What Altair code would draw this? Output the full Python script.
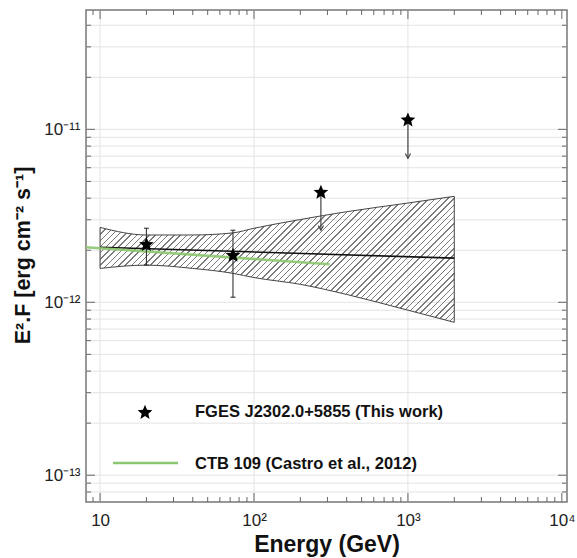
import math

import altair as alt
import pandas as pd

# ---------------------------------------------------------------- data
# Spectral points: energy (GeV), E^2 F (erg cm^-2 s^-1) and 1-sigma range
pt_energy = [20, 73]
pt_flux = [2.17e-12, 1.88e-12]
pt_flux_lo = [1.64e-12, 1.07e-12]
pt_flux_hi = [2.68e-12, 2.61e-12]

# Upper limits and where their arrows end
ul_energy = [272, 1000]
ul_flux = [4.35e-12, 1.14e-11]
ul_arrow_tip = [2.61e-12, 6.8e-12]

# Best-fit power law and its 1-sigma butterfly
fit_energy = [10, 2000]
fit_flux = [2.08e-12, 1.80e-12]
band_energy = [10, 20, 40, 73, 100, 200, 400, 1000, 2000]
band_upper = [2.71e-12, 2.45e-12, 2.45e-12, 2.52e-12, 2.68e-12,
              3.01e-12, 3.34e-12, 3.75e-12, 4.10e-12]
band_lower = [1.57e-12, 1.64e-12, 1.57e-12, 1.47e-12, 1.39e-12,
              1.27e-12, 1.11e-12, 9.0e-13, 7.66e-13]

# CTB 109 spectrum (Castro et al., 2012)
ctb_energy = [8.1, 310]
ctb_flux = [2.08e-12, 1.66e-12]

legend_labels = ["FGES J2302.0+5855 (This work)", "CTB 109 (Castro et al., 2012)"]

# Axes: ranges, tick values and tick labels
x_domain = [8.1, 1.08e4]
y_domain = [7.0e-14, 4.9e-11]
x_major = [10, 100, 1000, 10000]
x_major_labels = ["10", "10²", "10³", "10⁴"]
x_minor = [9] + [m * 10 ** k for k in (1, 2, 3) for m in range(2, 10)]
y_major = [1e-13, 1e-12, 1e-11]
y_major_labels = ["10⁻¹³", "10⁻¹²", "10⁻¹¹"]
y_minor = ([8e-14, 9e-14]
           + [m * 10.0 ** k for k in (-13, -12) for m in range(2, 10)]
           + [2e-11, 3e-11, 4e-11])

# ---------------------------------------------------------------- style
WIDTH, HEIGHT = 481, 492
FONT = "Liberation Sans"
GRID = "#e3e3e3"
TICK = "#666666"
HATCH = "#7c7c7c"
GREEN = "#8cc66e"

# five-pointed star symbol in the [-1, 1] box
_star = []
for k in range(10):
    r = 1.0 if k % 2 == 0 else 0.45
    a = -math.pi / 2 + k * math.pi / 5
    _star.append(f"{r * math.cos(a):.3f},{r * math.sin(a) + 0.08:.3f}")
STAR = "M" + "L".join(_star) + "Z"
ARROW_HEAD = "M-0.55,-1L0,0L0.55,-1"
CAP = "M-1,0L1,0"


def log_label_expr(values, labels):
    expr = "''"
    for v, lab in zip(values, labels):
        expr = f"round(log(datum.value)/LN10) == {round(math.log10(v))} ? '{lab}' : ({expr})"
    return expr


x_scale = alt.Scale(type="log", domain=x_domain, nice=False)
y_scale = alt.Scale(type="log", domain=y_domain, nice=False)

x_axis = alt.Axis(
    values=x_major, labelExpr=log_label_expr(x_major, x_major_labels),
    grid=False, ticks=False, domain=False,
    labelFont=FONT, labelFontSize=17, labelColor="#222", labelPadding=10,
    labelFlush=False,
    title="Energy (GeV)", titleFont=FONT, titleFontSize=23, titleFontWeight="bold",
    titleColor="#111", titleBaseline="middle", titleX=WIDTH / 2, titleY=42,
)
y_axis = alt.Axis(
    values=y_major, labelExpr=log_label_expr(y_major, y_major_labels),
    grid=False, ticks=False, domain=False,
    labelFont=FONT, labelFontSize=17, labelColor="#222", labelPadding=6,
    labelFlush=False,
    title="E².F [erg cm⁻² s⁻¹]", titleFont=FONT, titleFontSize=21.5,
    titleFontWeight="bold", titleColor="#111", titleBaseline="middle",
    titleX=-63, titleY=HEIGHT / 2 - 1,
)


def X(field):
    return alt.X(field, type="quantitative", scale=x_scale, axis=x_axis)


def Y(field):
    return alt.Y(field, type="quantitative", scale=y_scale, axis=y_axis)


# ---------------------------------------------------------------- hatch fill
# Diagonal hatching drawn as a hard-stop linear gradient over the band's box
def _lg(v):
    return math.log10(v)


band_w = WIDTH * (_lg(band_energy[-1]) - _lg(band_energy[0])) / (_lg(x_domain[1]) - _lg(x_domain[0]))
band_h = HEIGHT * (_lg(max(band_upper)) - _lg(min(band_lower))) / (_lg(y_domain[1]) - _lg(y_domain[0]))
reach = (band_w + band_h) * band_w / (band_w ** 2 + band_h ** 2)
span = (band_w + band_h) / math.sqrt(2)
n_lines = int(span / 4.4)
line_frac = 1.0 / span
clear = "rgba(255,255,255,0)"
stops = []
for i in range(n_lines):
    a = i / n_lines
    b = a + line_frac
    stops += [
        {"offset": a, "color": clear},
        {"offset": a, "color": HATCH},
        {"offset": b, "color": HATCH},
        {"offset": b, "color": clear},
    ]
stops.append({"offset": 1, "color": clear})
hatch_fill = {
    "gradient": "linear",
    "x1": 0, "y1": 0,
    "x2": reach, "y2": reach * band_h / band_w,
    "stops": stops,
}

# ---------------------------------------------------------------- layers
ygrid = alt.Chart(pd.DataFrame({"F": y_major + y_minor})).mark_rule(
    color=GRID, strokeWidth=1).encode(y=Y("F"))
xgrid = alt.Chart(pd.DataFrame({"E": x_major[:-1]})).mark_rule(
    color=GRID, strokeWidth=1).encode(x=X("E"))

band_df = pd.DataFrame({"E": band_energy, "hi": band_upper, "lo": band_lower})
band = alt.Chart(band_df).mark_area(
    fill=hatch_fill, stroke="#444", strokeWidth=1, interpolate="monotone"
).encode(x=X("E"), y=Y("hi"), y2="lo")

fit = alt.Chart(pd.DataFrame({"E": fit_energy, "F": fit_flux})).mark_line(
    color="#111", strokeWidth=1.6).encode(x=X("E"), y=Y("F"))

ctb = alt.Chart(pd.DataFrame({"E": ctb_energy, "F": ctb_flux})).mark_line(
    color=GREEN, strokeWidth=2.6, opacity=0.9).encode(x=X("E"), y=Y("F"))

pts_df = pd.DataFrame({"E": pt_energy, "F": pt_flux, "lo": pt_flux_lo, "hi": pt_flux_hi})
err = alt.Chart(pts_df).mark_rule(color="#333", strokeWidth=1.1).encode(
    x=X("E"), y=Y("lo"), y2="hi")
cap_hi = alt.Chart(pts_df).mark_point(
    shape=CAP, size=25, filled=False, color="#333", strokeWidth=1.1, opacity=1
).encode(x=X("E"), y=Y("hi"))
cap_lo = alt.Chart(pts_df).mark_point(
    shape=CAP, size=25, filled=False, color="#333", strokeWidth=1.1, opacity=1
).encode(x=X("E"), y=Y("lo"))
stars = alt.Chart(pts_df).mark_point(
    shape=STAR, size=240, filled=True, color="#000", opacity=1
).encode(x=X("E"), y=Y("F"))

ul_df = pd.DataFrame({"E": ul_energy, "F": ul_flux, "tip": ul_arrow_tip})
ul_line = alt.Chart(ul_df).mark_rule(color="#444", strokeWidth=1.2).encode(
    x=X("E"), y=Y("F"), y2="tip")
ul_head = alt.Chart(ul_df).mark_point(
    shape=ARROW_HEAD, size=90, filled=False, color="#444", strokeWidth=1.2, opacity=1
).encode(x=X("E"), y=Y("tip"))
ul_stars = alt.Chart(ul_df).mark_point(
    shape=STAR, size=240, filled=True, color="#000", opacity=1
).encode(x=X("E"), y=Y("F"))


# inward ticks on all four sides
def x_ticks(vals, length):
    d = pd.DataFrame({"E": vals})
    base = alt.Chart(d).mark_rule(color=TICK, strokeWidth=1)
    return [
        base.encode(x=X("E"), y=alt.value(HEIGHT), y2=alt.value(HEIGHT - length)),
        base.encode(x=X("E"), y=alt.value(0), y2=alt.value(length)),
    ]


def y_ticks(vals, length):
    d = pd.DataFrame({"F": vals})
    base = alt.Chart(d).mark_rule(color=TICK, strokeWidth=1)
    return [
        base.encode(y=Y("F"), x=alt.value(0), x2=alt.value(length)),
        base.encode(y=Y("F"), x=alt.value(WIDTH), x2=alt.value(WIDTH - length)),
    ]


ticks = (x_ticks(x_major, 9) + x_ticks(x_minor, 5)
         + y_ticks(y_major, 9) + y_ticks(y_minor, 5))

# legend
leg_font = dict(font=FONT, fontSize=16.5, fontWeight="bold", color="#111",
                align="left", baseline="middle")
leg_star = alt.Chart(pd.DataFrame({"t": [legend_labels[0]]})).mark_point(
    shape=STAR, size=240, filled=True, color="#000", opacity=1
).encode(x=alt.value(59), y=alt.value(402))
leg_text1 = alt.Chart(pd.DataFrame({"t": [legend_labels[0]]})).mark_text(**leg_font).encode(
    text="t:N", x=alt.value(109), y=alt.value(402))
leg_line = alt.Chart(pd.DataFrame({"t": [legend_labels[1]]})).mark_rule(
    color=GREEN, strokeWidth=2.6).encode(x=alt.value(27), x2=alt.value(92), y=alt.value(453))
leg_text2 = alt.Chart(pd.DataFrame({"t": [legend_labels[1]]})).mark_text(**leg_font).encode(
    text="t:N", x=alt.value(109), y=alt.value(454))

chart = alt.layer(
    ygrid, xgrid, band, fit, ctb, err, cap_hi, cap_lo, stars,
    ul_line, ul_head, ul_stars, *ticks,
    leg_star, leg_text1, leg_line, leg_text2,
).properties(
    width=WIDTH, height=HEIGHT,
    padding={"left": 86, "top": 10, "right": 10, "bottom": 56},
    autosize=alt.AutoSizeParams(type="none"),
    background="white",
).configure_view(stroke="#777777", strokeWidth=1.5)

chart.save("out.html", embed_options={"renderer": "svg", "actions": False})
